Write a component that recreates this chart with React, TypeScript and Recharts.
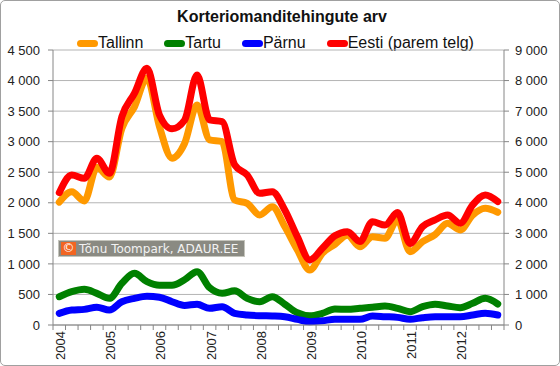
import { LineChart, Line, XAxis, YAxis, CartesianGrid } from 'recharts'

const years = ['2004', '2005', '2006', '2007', '2008', '2009', '2010', '2011', '2012']
const quarterNames = ['Q1', 'Q2', 'Q3', 'Q4']

// quarterly apartment transactions
const tallinn = [
  2010, 2180, 2030, 2580, 2420, 3220, 3570, 4040, 3245, 2730, 2970, 3600,
  3030, 3000, 2045, 1990, 1800, 1935, 1610, 1230, 900, 1175, 1320, 1470,
  1280, 1445, 1420, 1720, 1200, 1365, 1480, 1665, 1555, 1800, 1910, 1845,
]
const tartu = [
  463, 545, 584, 518, 436, 682, 845, 709, 650, 650, 740, 872,
  610, 518, 560, 436, 380, 463, 340, 200, 150, 190, 260, 256,
  273, 290, 311, 273, 218, 300, 340, 311, 284, 355, 436, 344,
]
const parnu = [
  191, 245, 256, 290, 245, 381, 436, 470, 455, 381, 320, 340,
  273, 300, 191, 164, 152, 147, 136, 93, 54, 70, 93, 93,
  93, 147, 136, 125, 93, 120, 136, 136, 136, 164, 191, 164,
]
// right axis
const eesti = [
  4330, 4910, 4800, 5460, 4965, 6820, 7580, 8400, 6870, 6420, 6700, 8180,
  6710, 6655, 5240, 4910, 4310, 4365, 3765, 2890, 2130, 2510, 2920, 3055,
  2730, 3380, 3270, 3680, 2670, 3220, 3440, 3600, 3330, 3930, 4255, 4040,
]

const leftTicks = [0, 500, 1000, 1500, 2000, 2500, 3000, 3500, 4000, 4500]
const rightTicks = [0, 1000, 2000, 3000, 4000, 5000, 6000, 7000, 8000, 9000]

const quarters = years.flatMap((y) => quarterNames.map((q) => `${y} ${q}`))
const data = quarters.map((q, i) => ({
  q,
  tallinn: tallinn[i],
  tartu: tartu[i],
  parnu: parnu[i],
  eesti: eesti[i],
}))

const series = [
  { key: 'tallinn', name: 'Tallinn', color: '#FF9900', axis: 'left' },
  { key: 'tartu', name: 'Tartu', color: '#008000', axis: 'left' },
  { key: 'parnu', name: 'Pärnu', color: '#0000FF', axis: 'left' },
  { key: 'eesti', name: 'Eesti (parem telg)', color: '#FF0000', axis: 'right' },
]

const W = 560
const H = 366
const LEFT_W = 53
const RIGHT_W = 56
const BAND = (W - LEFT_W - RIGHT_W) / data.length
const AXIS = '#868686'
const FONT = '"Liberation Sans", Arial, sans-serif'

const fmt = (v: number) => String(v).replace(/\B(?=(\d{3})+(?!\d))/g, ' ')

function YearTick(props: any) {
  const { x, y, index, payload } = props
  const value: string = payload.value
  return (
    <g>
      <line x1={x - BAND / 2} x2={x - BAND / 2} y1={y} y2={y + 5} stroke={AXIS} />
      {index === data.length - 1 && (
        <line x1={x + BAND / 2} x2={x + BAND / 2} y1={y} y2={y + 5} stroke={AXIS} />
      )}
      {value.endsWith('Q1') && (
        <text
          transform={`translate(${x + 1.5},${y + 6}) rotate(-90)`}
          textAnchor="end"
          dominantBaseline="central"
          fontSize={13}
          fontFamily={FONT}
          fill="#222"
        >
          {value.slice(0, 4)}
        </text>
      )}
    </g>
  )
}

export default function App() {
  return (
    <div
      style={{
        position: 'relative',
        width: W,
        height: H,
        background: '#fff',
        fontFamily: FONT,
      }}
    >
      <style>{'body{margin:0}'}</style>
      <div
        style={{
          position: 'absolute',
          inset: 0,
          border: '1px solid #a0a0a0',
          borderRadius: 5,
          boxSizing: 'border-box',
          pointerEvents: 'none',
        }}
      />
      <div
        style={{
          position: 'absolute',
          top: 8,
          left: 0,
          width: W,
          textAlign: 'center',
          fontWeight: 'bold',
          fontSize: 16,
          color: '#111',
          paddingLeft: 2,
        }}
      >
        Korteriomanditehingute arv
      </div>
      <div
        style={{
          position: 'absolute',
          top: 34,
          left: 77,
          display: 'flex',
          alignItems: 'center',
          gap: 21,
          fontSize: 16,
          color: '#111',
        }}
      >
        {series.map((s) => (
          <div key={s.key} style={{ display: 'flex', alignItems: 'center' }}>
            <span
              style={{
                display: 'inline-block',
                width: 21,
                height: 7,
                borderRadius: 4,
                background: s.color,
              }}
            />
            <span>{s.name}</span>
          </div>
        ))}
      </div>

      <LineChart width={W} height={H} data={data} margin={{ top: 50, right: 0, left: 0, bottom: 0 }}>
        <CartesianGrid yAxisId="left" vertical={false} stroke="#b4b4b4" />
        <XAxis
          dataKey="q"
          interval={0}
          height={41}
          padding={{ left: BAND / 2, right: BAND / 2 }}
          tickLine={false}
          tickSize={0}
          tickMargin={0}
          axisLine={{ stroke: AXIS }}
          tick={<YearTick />}
        />
        <YAxis
          yAxisId="left"
          width={LEFT_W}
          domain={[0, 4500]}
          ticks={leftTicks}
          interval={0}
          tickFormatter={fmt}
          tickSize={5}
          tickMargin={8}
          axisLine={{ stroke: AXIS }}
          tickLine={{ stroke: AXIS }}
          tick={{ fill: '#222', fontSize: 13, fontFamily: FONT }}
        />
        <YAxis
          yAxisId="right"
          orientation="right"
          width={RIGHT_W}
          domain={[0, 9000]}
          ticks={rightTicks}
          interval={0}
          tickFormatter={fmt}
          tickSize={5}
          tickMargin={6}
          axisLine={{ stroke: AXIS }}
          tickLine={{ stroke: AXIS }}
          tick={{ fill: '#222', fontSize: 13, fontFamily: FONT }}
        />
        {series.map((s) => (
          <Line
            key={s.key}
            yAxisId={s.axis}
            type="monotone"
            dataKey={s.key}
            name={s.name}
            stroke={s.color}
            strokeWidth={7}
            strokeLinecap="round"
            strokeLinejoin="round"
            dot={false}
            isAnimationActive={false}
          />
        ))}
      </LineChart>

      <div
        style={{
          position: 'absolute',
          left: 58,
          top: 240,
          width: 187,
          height: 17,
          background: '#8a8a82',
          border: '1px solid #c4c4bc',
          boxSizing: 'border-box',
          display: 'flex',
          alignItems: 'center',
          fontFamily: '"DejaVu Sans", Verdana, sans-serif',
          fontSize: 12,
          color: '#f2f2f2',
          whiteSpace: 'nowrap',
        }}
      >
        <span
          style={{
            display: 'inline-block',
            width: 15,
            height: 13,
            marginLeft: 2,
            marginRight: 3,
            background: '#f26522',
            color: '#fff',
            textAlign: 'center',
            lineHeight: '13px',
          }}
        >
          ©
        </span>
        <span>Tõnu Toompark, ADAUR.EE</span>
      </div>
    </div>
  )
}
